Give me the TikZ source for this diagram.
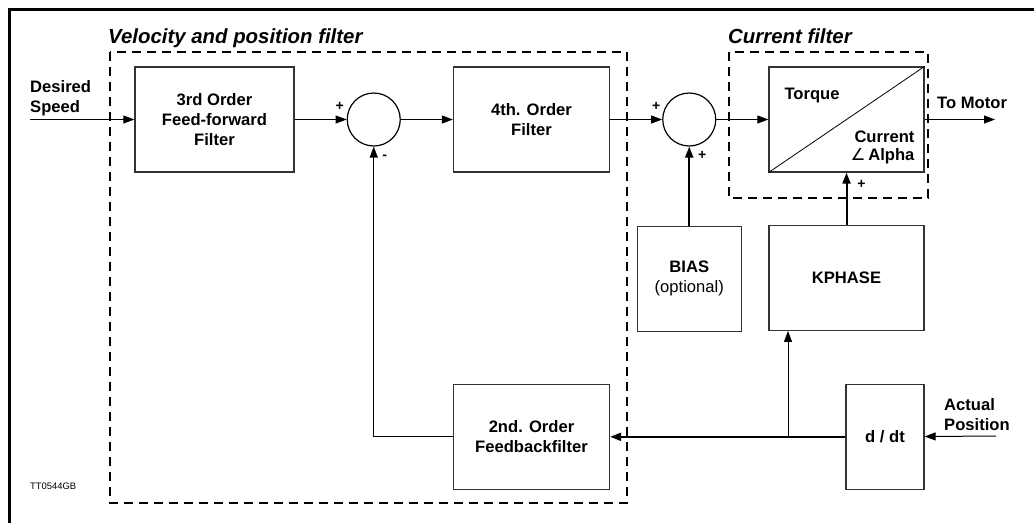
\documentclass[tikz,border=0pt]{standalone}
\usepackage{fontspec}
\setmainfont{Liberation Sans}
\newfontfamily\anglefont{DejaVu Sans}
\usetikzlibrary{arrows.meta,positioning}
\definecolor{edge}{HTML}{333333}

\begin{document}
\begin{tikzpicture}[x=1pt,y=-1pt,>={Triangle[length=11pt,width=8pt]},node distance=52pt,
    font=\fontsize{16.6}{20}\selectfont\bfseries,
    box/.style={draw=edge,line width=1.3pt,minimum width=156pt,minimum height=105pt,
                align=center,inner sep=2pt},
    junction/.style={draw,circle,line width=1.2pt,minimum size=53pt,inner sep=0pt},
    group/.style={line width=1.8pt,dash pattern=on 9pt off 6pt},
    heading/.style={font=\fontsize{20.4}{24}\selectfont\bfseries\itshape,inner sep=0pt,anchor=base west},
    sign/.style={inner sep=0pt,font=\fontsize{14}{14}\selectfont\bfseries},
    wire/.style={->,line width=1pt},
    thickwire/.style={->,line width=2pt}]
    \useasboundingbox (0,0) rectangle (1034,523);
    % frame
    \draw[line width=3pt] (1034,9.5) -- (9,9.5) -- (9,523);

    % blocks
    \node[box,minimum width=159pt] (feedfwd) at (214.5,119.5) {3rd Order\\Feed-forward\\Filter};
    \node[junction,right=of feedfwd] (sumA) {};
    \node[box,right=of sumA] (fourth) {4th. Order\\Filter};
    \node[junction,right=of fourth] (sumB) {};
    \node[box,minimum width=155pt,right=of sumB] (cur) {};
    \node[box,minimum width=104pt,below=79pt of sumB] (bias) {BIAS\\{\mdseries (optional)}};
    \node[box,minimum width=155pt,below=of cur] (kphase) {KPHASE};
    \node[box,below=211pt of fourth] (fbfilter) {2nd. Order\\Feedbackfilter};
    \node[box,minimum width=78pt,anchor=east] (ddt) at (fbfilter -| cur.east) {d / dt};

    % current block
    \draw[line width=0.8pt] (cur.south west) -- (cur.north east);
    \node[anchor=base west,inner sep=0pt] (torque) at ([shift={(16,33)}]cur.north west) {Torque};
    \node[anchor=base east,inner sep=0pt] (current) at ([shift={(-10,76)}]cur.north east) {Current};
    \node[anchor=base east,inner sep=0pt] (alpha) at ([shift={(-10,94)}]cur.north east)
        {{\anglefont\mdseries ∠}\,Alpha};

    % filter groups
    \draw[group] (110,52) rectangle (627,503);
    \draw[group] (729,52) rectangle (928,198);
    \node[heading] (veltitle) at (108,43) {Velocity and position filter};
    \node[heading] (curtitle) at (728,43) {Current filter};

    % signals
    \coordinate (speedin) at (30,119.5);
    \coordinate (motor) at (995,119.5);
    \coordinate (actual) at (996,436);
    \coordinate (tap) at (788,436);
    \node[anchor=south west,align=left,inner sep=0pt] (desired) at (30,116) {Desired\\Speed};
    \node[anchor=base west,inner sep=0pt] (tomotor) at (937,108) {To Motor};
    \node[anchor=south west,align=left,inner sep=0pt] (actpos) at (944,431) {Actual\\Position};
    \draw[wire] (speedin) -- (feedfwd);
    \draw[wire] (feedfwd) -- (sumA);
    \draw[wire] (sumA) -- (fourth);
    \draw[wire] (fourth) -- (sumB);
    \draw[wire] (sumB) -- (cur);
    \draw[wire] (cur) -- (motor);
    \draw[thickwire] (bias) -- (sumB);
    \draw[thickwire] (kphase) -- (cur);
    \draw[wire] (actual) -- (ddt);
    \draw[thickwire] (ddt) -- (fbfilter);
    \draw[wire] (tap) -- (tap |- kphase.south);
    \draw[wire,line width=1.3pt] (fbfilter) -| (sumA);

    % signs
    \node[sign] at ([shift={(-34,-13)}]sumA.center) {+};
    \node[sign] at ([shift={(11,38)}]sumA.center) {-};
    \node[sign] at ([shift={(-33,-13)}]sumB.center) {+};
    \node[sign] at ([shift={(13,36)}]sumB.center) {+};
    \node[sign] at ([shift={(15,12)}]cur.south) {+};

    \node[font=\fontsize{9.4}{10}\selectfont\mdseries,inner sep=0pt,anchor=west] (tag) at (30,486) {TT0544GB};
\end{tikzpicture}
\end{document}
